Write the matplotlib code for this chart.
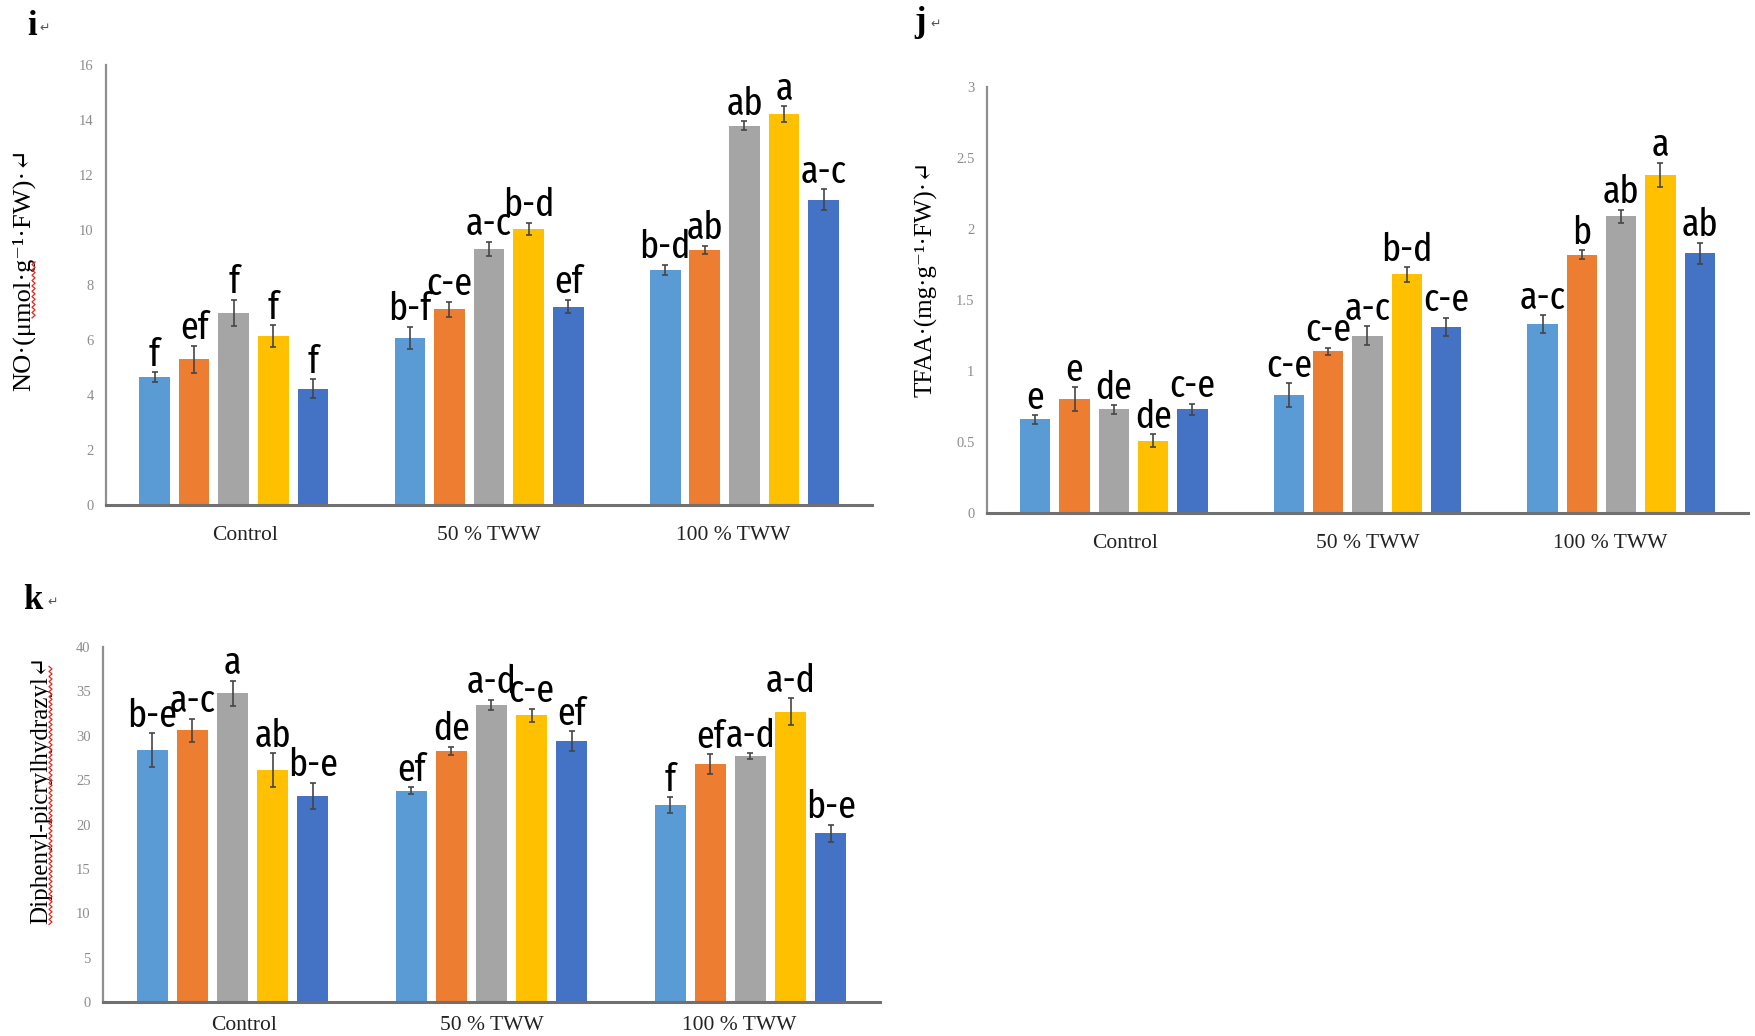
import numpy as np
import matplotlib.pyplot as plt
from matplotlib.lines import Line2D
from matplotlib.ticker import FuncFormatter

# categories and series colours (Excel default palette)
groups = ['Control', '50 % TWW', '100 % TWW']
colors = ['#5B9BD5', '#ED7D31', '#A5A5A5', '#FFC000', '#4472C4']

# panel i : NO, one row per group, five bars per group
no_mean = [[4.65, 5.30, 6.98, 6.15, 4.23],
           [6.08, 7.12, 9.32, 10.05, 7.22],
           [8.56, 9.28, 13.80, 14.22, 11.10]]
no_err = [[0.18, 0.50, 0.48, 0.40, 0.35],
          [0.40, 0.28, 0.26, 0.22, 0.25],
          [0.18, 0.15, 0.15, 0.28, 0.38]]
no_letters = [['f', 'ef', 'f', 'f', 'f'],
              ['b-f', 'c-e', 'a-c', 'b-d', 'ef'],
              ['b-d', 'ab', 'ab', 'a', 'a-c']]

# panel j : TFAA
tfaa_mean = [[0.66, 0.80, 0.73, 0.51, 0.73],
             [0.83, 1.14, 1.25, 1.68, 1.31],
             [1.33, 1.82, 2.09, 2.38, 1.83]]
tfaa_err = [[0.03, 0.085, 0.03, 0.045, 0.04],
            [0.085, 0.025, 0.065, 0.05, 0.065],
            [0.065, 0.03, 0.045, 0.087, 0.075]]
tfaa_letters = [['e', 'e', 'de', 'de', 'c-e'],
                ['c-e', 'c-e', 'a-c', 'b-d', 'c-e'],
                ['a-c', 'b', 'ab', 'a', 'ab']]

# panel k : DPPH
dpph_mean = [[28.4, 30.6, 34.8, 26.1, 23.2],
             [23.8, 28.3, 33.5, 32.3, 29.4],
             [22.2, 26.8, 27.7, 32.7, 19.0]]
dpph_err = [[1.9, 1.3, 1.4, 1.9, 1.5],
            [0.4, 0.45, 0.55, 0.75, 1.1],
            [0.9, 1.1, 0.35, 1.5, 1.0]]
dpph_letters = [['b-e', 'a-c', 'a', 'ab', 'b-e'],
                ['ef', 'de', 'a-d', 'c-e', 'ef'],
                ['f', 'ef', 'a-d', 'a-d', 'b-e']]

serif = ['Liberation Serif', 'DejaVu Serif', 'DejaVu Sans']
# condensed sans for the significance letters (falls back if missing)
letter_font = ['Fira Sans Extra Condensed', 'Fira Sans Condensed', 'Liberation Sans Narrow',
               'Liberation Sans', 'DejaVu Sans']

fig = plt.figure(figsize=(17.55, 10.36), dpi=100)


def draw_panel(ax, means, errs, letters, ymax, ystep, ylabel, label_xy, label_size, xpad):
    means = np.array(means)
    errs = np.array(errs)
    x = np.arange(len(groups))
    width = 0.12
    pitch = 0.155
    for s in range(means.shape[1]):
        pos = x + (s - 2) * pitch
        ax.bar(pos, means[:, s], width, color=colors[s], zorder=2)
        ax.errorbar(pos, means[:, s], yerr=errs[:, s], fmt='none', ecolor='#454545',
                    elinewidth=1.2, capsize=2.5, capthick=1.2, zorder=3)
        for g in range(len(groups)):
            ax.annotate(letters[g][s], (pos[g], means[g, s] + errs[g, s]),
                        xytext=(0, -1), textcoords='offset points',
                        ha='center', va='bottom', fontsize=28, color='black',
                        family=letter_font, zorder=4)
    ax.set_xlim(-0.5, 2.5)
    ax.set_ylim(0, ymax)
    ax.set_yticks(np.arange(0, ymax + ystep / 2, ystep))
    ax.yaxis.set_major_formatter(FuncFormatter(lambda v, p: '%g' % v))
    # category labels sit slightly closer together than the bar groups
    ax.set_xticks(1 + (x - 1) * 0.955)
    ax.set_xticklabels(groups, family=serif, fontsize=15.5, color='#222222')
    for t in ax.get_yticklabels():
        t.set_family(serif)
        t.set_fontsize(10.5)
        t.set_color('#8c8c8c')
    ax.tick_params(axis='y', length=0, pad=9)
    ax.tick_params(axis='x', length=0, pad=xpad)
    for side in ['top', 'right']:
        ax.spines[side].set_visible(False)
    ax.spines['left'].set_color('#8f8f8f')
    ax.spines['left'].set_linewidth(1.6)
    ax.spines['bottom'].set_color('#707070')
    ax.spines['bottom'].set_linewidth(2.2)
    yl = ax.set_ylabel(ylabel, family=serif, fontsize=label_size, color='black')
    ax.yaxis.set_label_coords(*label_xy)
    return yl


ax_i = fig.add_axes([0.0604, 0.5125, 0.4365, 0.4247])
ax_j = fig.add_axes([0.5624, 0.5048, 0.4336, 0.4112])
ax_k = fig.add_axes([0.0587, 0.0328, 0.4427, 0.3427])

yl_i = draw_panel(ax_i, no_mean, no_err, no_letters, 16, 2,
                  'NO·(μmol·g⁻¹·FW)·↵', (-0.092, 0.536), 19, 15)
yl_j = draw_panel(ax_j, tfaa_mean, tfaa_err, tfaa_letters, 3, 0.5,
                  'TFAA·(mg·g⁻¹·FW)·↵', (-0.065, 0.55), 18, 15)
yl_k = draw_panel(ax_k, dpph_mean, dpph_err, dpph_letters, 40, 5,
                  'Diphenyl-picrylhydrazyl↵', (-0.065, 0.597), 18, 10)

# panel letters with the paragraph mark right after them
for lab, px, ax_, py in [('i', 27, 39, 35), ('j', 914, 930, 31), ('k', 23, 47, 609)]:
    fig.text(px / 1755, 1 - py / 1036, lab, family=serif, fontsize=25,
             fontweight='bold', ha='left', va='baseline')
    fig.text(ax_ / 1755, 1 - (py - 3) / 1036, '↵', family=['DejaVu Sans'],
             fontsize=9, color='#555555', ha='left', va='baseline')

# red spell-check squiggle beside parts of the rotated labels
fig.canvas.draw()
renderer = fig.canvas.get_renderer()
W, H = fig.get_size_inches() * fig.dpi


def squiggle(label, f0, f1, inset):
    bb = label.get_window_extent(renderer)
    y0 = bb.y0 + f0 * bb.height
    y1 = bb.y0 + f1 * bb.height
    n = int((y1 - y0) / 2.5)
    ys = np.linspace(y0, y1, n)
    xs = bb.x1 - inset + np.where(np.arange(n) % 2 == 0, -1.5, 1.5)
    fig.add_artist(Line2D(xs / W, ys / H, color='#e8251c', lw=0.9,
                          transform=fig.transFigure))


squiggle(yl_i, 0.30, 0.53, 2)
squiggle(yl_k, 0.0, 0.96, 2)

fig.savefig('out.png', dpi=100, facecolor='white')
